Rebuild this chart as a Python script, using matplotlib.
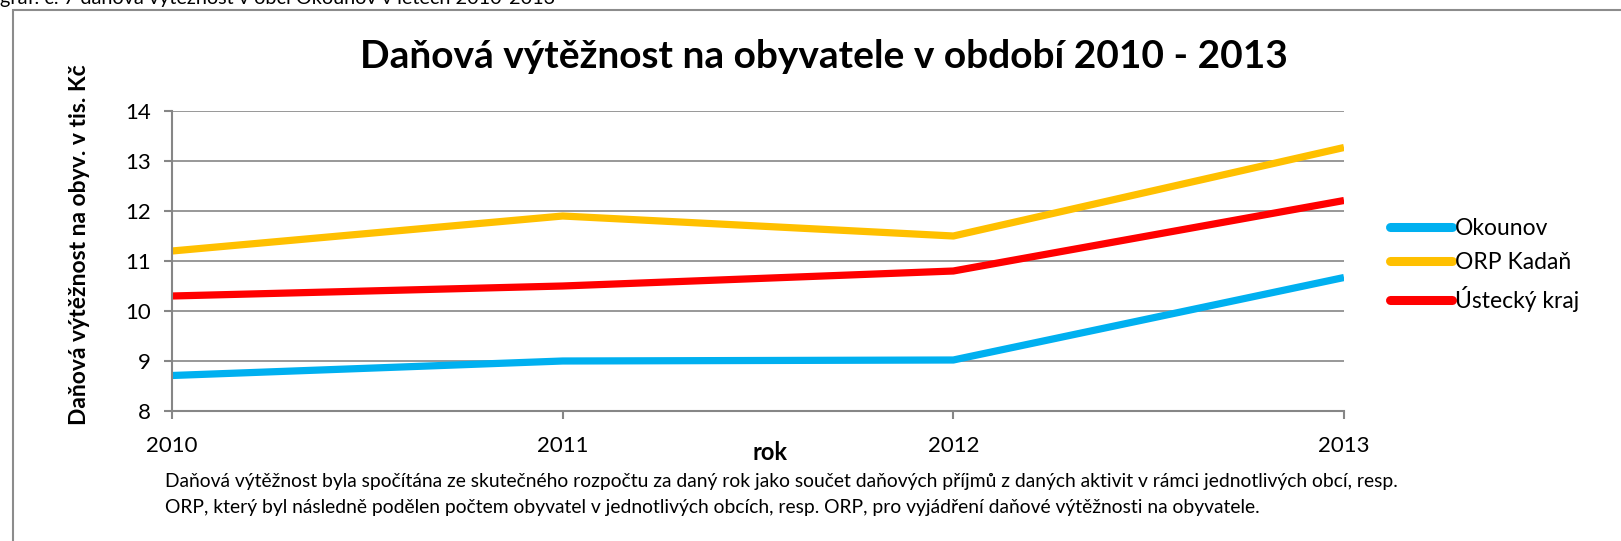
import matplotlib
matplotlib.use("Agg")
import matplotlib.pyplot as plt
from matplotlib.patches import Rectangle

plt.rcParams['font.family'] = ['Lato', 'DejaVu Sans']

roky = [2010, 2011, 2012, 2013]
okounov = [8.71, 9.0, 9.02, 10.67]
orp_kadan = [11.2, 11.9, 11.5, 13.27]
ustecky_kraj = [10.3, 10.5, 10.8, 12.21]
nazvy = ['Okounov', 'ORP Kadaň', 'Ústecký kraj']
barvy = ['#00b0f0', '#ffc000', '#ff0000']

W, H = 1621, 541
fig = plt.figure(figsize=(W / 100, H / 100), dpi=100)

# ramecek grafu (jen levy a horni okraj je videt)
fig.patches.append(Rectangle((13 / W, -0.1), 1.2, (H - 10) / H + 0.1, transform=fig.transFigure,
                             fill=False, edgecolor='#8c8c8c', linewidth=1.5))

# oriznuty popisek nad grafem
fig.text(0 / W, 1 - 4 / H, 'graf. č. 7 daňová výtěžnost v obci Okounov v letech 2010-2013',
         fontsize=14.3, va='baseline', ha='left')

ax = fig.add_axes([172 / W, 1 - 411 / H, (1344 - 172) / W, 300 / H])
for data, nazev, barva in zip([okounov, orp_kadan, ustecky_kraj], nazvy, barvy):
    ax.plot(roky, data, color=barva, linewidth=5.2, label=nazev, solid_capstyle='butt')

ax.set_xlim(2010, 2013)
ax.set_ylim(8, 14)
ax.set_xticks(roky)
ax.set_yticks(range(8, 15))
ax.yaxis.grid(True, color='#868686', linewidth=1.2)
ax.set_axisbelow(True)
for s in ['top', 'right']:
    ax.spines[s].set_visible(False)
for s in ['left', 'bottom']:
    ax.spines[s].set_color('#868686')
    ax.spines[s].set_linewidth(1.5)
ax.tick_params(axis='both', colors='#868686', length=6, width=1.5, labelcolor='black', labelsize=16)
ax.tick_params(axis='y', pad=9)
ax.tick_params(axis='x', pad=12)

fig.text(770 / W, 1 - 453 / H, 'rok', fontsize=17, fontweight='bold', ha='center', va='center')
fig.text(80 / W, 1 - 245 / H, 'Daňová výtěžnost na obyv. v tis. Kč', fontsize=16.5, fontweight='bold',
         rotation=90, ha='center', va='center')
fig.text(824 / W, 1 - 57 / H, 'Daňová výtěžnost na obyvatele v období 2010 - 2013', fontsize=28,
         fontweight='bold', ha='center', va='center')

leg = ax.legend(loc='center left', bbox_to_anchor=(1390 / W, 1 - 265 / H), bbox_transform=fig.transFigure,
                frameon=False, fontsize=16.5, handlelength=2.7, handletextpad=0.15, labelspacing=0.55,
                borderaxespad=0, borderpad=0)
for ln in leg.get_lines():
    ln.set_linewidth(6.5)
    ln.set_solid_capstyle('round')

fig.text(165 / W, 1 - 482 / H,
         'Daňová výtěžnost byla spočítána ze skutečného rozpočtu za daný rok jako součet daňových příjmů '
         'z daných aktivit v rámci jednotlivých obcí, resp.', fontsize=13.9, va='center')
fig.text(165 / W, 1 - 508 / H,
         'ORP, který byl následně podělen počtem obyvatel v jednotlivých obcích, resp. ORP, pro vyjádření '
         'daňové výtěžnosti na obyvatele.', fontsize=13.9, va='center')

fig.savefig('out.png', dpi=100)
